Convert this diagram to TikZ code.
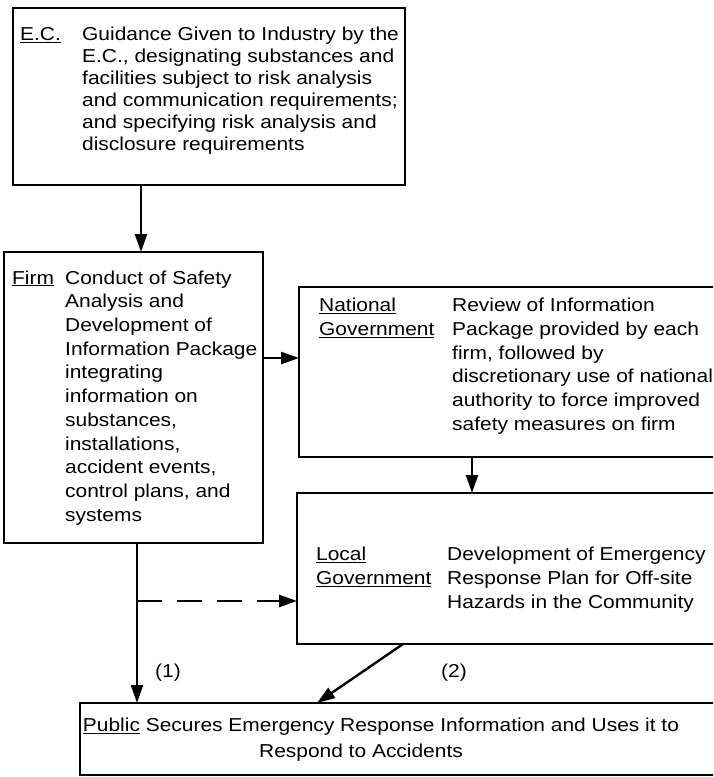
\documentclass[tikz,border=0pt]{standalone}
\usepackage{fontspec}
\newfontfamily\flowfont{Liberation Sans}[FakeStretch=1.12]
\usetikzlibrary{arrows.meta}

\begin{document}
\begin{tikzpicture}[x=1pt, y=-1pt,
  box/.style={draw, line width=2.2pt, outer sep=0pt, inner sep=0pt, anchor=north west},
  txt/.style={inner sep=0pt, anchor=north west, font=\flowfont\fontsize{18.7}{23.7}\selectfont},
  arr/.style={line width=2.4pt, -{Triangle[length=18pt, width=12pt]}},
  lbl/.style={inner sep=0pt, font=\flowfont\fontsize{18.7}{22}\selectfont}]
  \path[use as bounding box, clip] (0,0) rectangle (713,777);

  \node[box, minimum width=392pt, minimum height=177pt] (ec) at (13,8) {};
  \node[box, minimum width=259pt, minimum height=291pt] (firm) at (4,252) {};
  \node[box, minimum width=421pt, minimum height=170pt] (nat) at (299,287) {};
  \node[box, minimum width=423pt, minimum height=151pt] (loc) at (297,493) {};
  \node[box, minimum width=640pt, minimum height=72pt] (pub) at (80,703) {};

  \node[txt, font=\flowfont\fontsize{18.7}{22}\selectfont] (ectxt) at ([shift={(7,17)}]ec.north west) {\begin{tabular}{@{}p{62pt}@{}l@{}}
    \underline{E.C.} & Guidance Given to Industry by the\\
    & E.C., designating substances and\\
    & facilities subject to risk analysis\\
    & and communication requirements;\\
    & and specifying risk analysis and\\
    & disclosure requirements
  \end{tabular}};
  \node[txt] (firmtxt) at ([shift={(8,15.4)}]firm.north west) {\begin{tabular}{@{}p{53pt}@{}l@{}}
    \underline{Firm} & Conduct of Safety\\
    & Analysis and\\
    & Development of\\
    & Information Package\\
    & integrating\\
    & information on\\
    & substances,\\
    & installations,\\
    & accident events,\\
    & control plans, and\\
    & systems
  \end{tabular}};
  \node[txt] (nattxt) at ([shift={(20,8)}]nat.north west) {\begin{tabular}{@{}p{133pt}@{}l@{}}
    \underline{National} & Review of Information\\
    \underline{Government} & Package provided by each\\
    & firm, followed by\\
    & discretionary use of national\\
    & authority to force improved\\
    & safety measures on firm
  \end{tabular}};
  \node[txt] (loctxt) at ([shift={(19,51)}]loc.north west) {\begin{tabular}{@{}p{131pt}@{}l@{}}
    \underline{Local} & Development of Emergency\\
    \underline{Government} & Response Plan for Off-site\\
    & Hazards in the Community
  \end{tabular}};
  \node[txt, anchor=north, font=\flowfont\fontsize{18.7}{26}\selectfont] (pubtxt) at ([shift={(301,10.5)}]pub.north west) {\begin{tabular}{@{}c@{}}
    \underline{Public} Secures Emergency Response Information and Uses it to\\
    Respond to Accidents\hspace*{40pt}
  \end{tabular}};

  \coordinate (fork) at ([shift={(133,58)}]firm.south west);
  \draw[arr] ([xshift=128pt]ec.south west) -- ([xshift=128pt]ec.south west |- firm.north);
  \draw[arr] ([yshift=-106pt]firm.north east) -- ([yshift=-106pt]firm.north east -| nat.west);
  \draw[arr] ([xshift=173pt]nat.south west) -- ([xshift=173pt]nat.south west |- loc.north);
  \draw[arr] ([xshift=133pt]firm.south west) -- ([xshift=133pt]firm.south west |- pub.north);
  \draw[arr, dash pattern=on 25pt off 15pt] (fork) -- (fork -| loc.west);
  \draw[arr] ([xshift=106pt]loc.south west) -- ([xshift=237pt]pub.north west);

  \node[lbl] (one) at (168,673) {(1)};
  \node[lbl] (two) at (454,673) {(2)};
\end{tikzpicture}
\end{document}
